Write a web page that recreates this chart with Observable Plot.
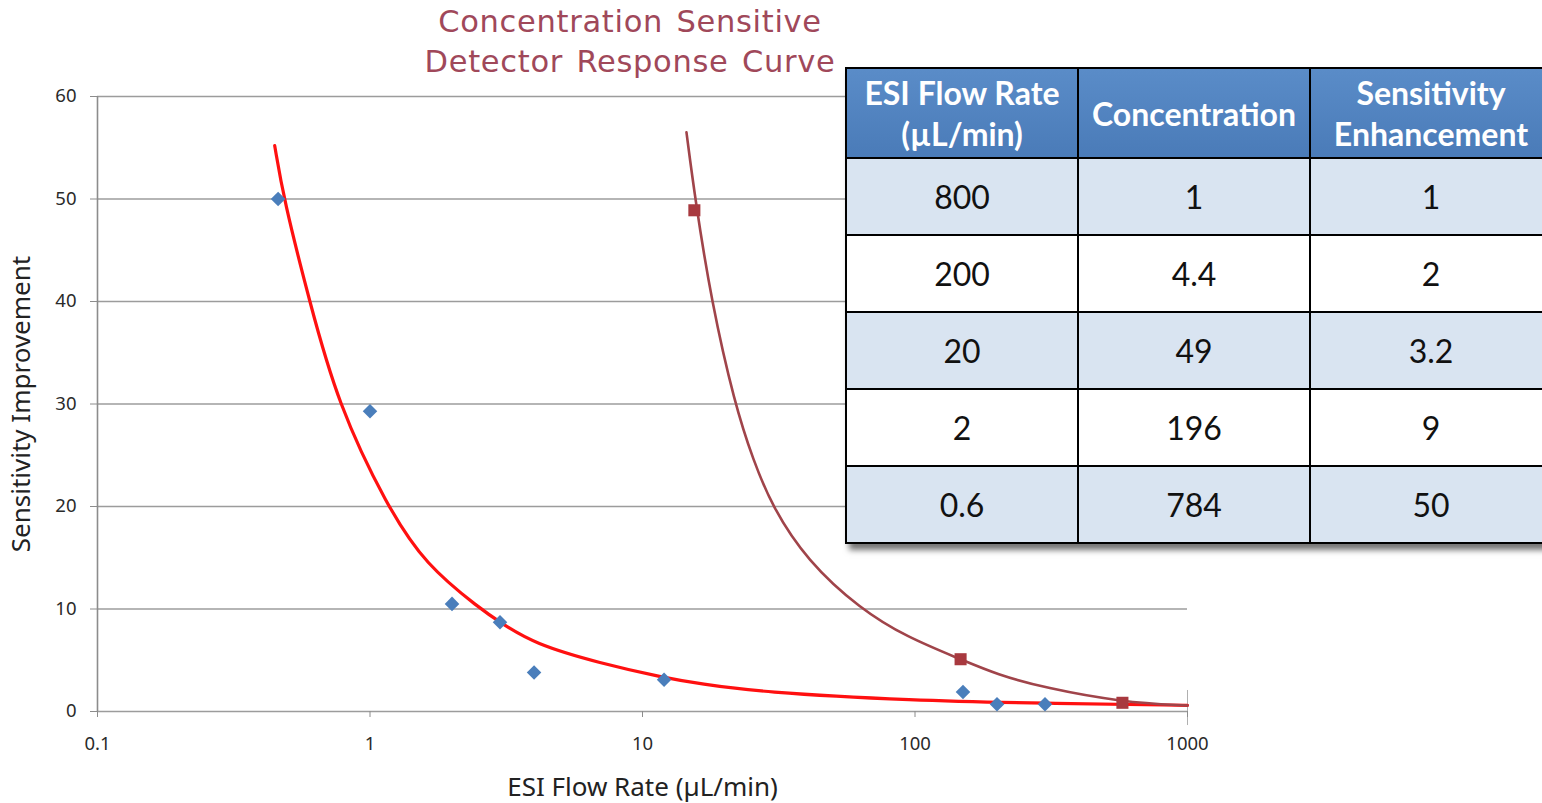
<!DOCTYPE html>
<html><head><meta charset="utf-8">
<script src="https://cdn.jsdelivr.net/npm/d3@7"></script>
<script src="https://cdn.jsdelivr.net/npm/@observablehq/plot@0.6"></script>
<style>
html,body{margin:0;padding:0;background:#fff;width:1542px;height:803px;overflow:hidden}
#wrap{position:relative;width:1542px;height:803px;overflow:hidden}
#chart{position:absolute;left:0;top:0}
#title{position:absolute;left:330px;width:600px;top:2px;text-align:center;font-family:"DejaVu Sans",sans-serif;font-size:30.5px;line-height:40px;color:#a0485a;word-spacing:3px;letter-spacing:0.7px}
#tbl{position:absolute;left:845px;top:67px;width:706px;table-layout:fixed;border-collapse:collapse;font-family:Lato,sans-serif;box-shadow:4px 6px 6px rgba(0,0,0,0.55)}
#tbl th,#tbl td{border:2px solid #000;text-align:center;padding:0;overflow:visible;white-space:nowrap}
#tbl th{background:linear-gradient(#5a8cc8,#4a7bb8);color:#fff;font-weight:bold;font-size:32px;line-height:41px;height:88px}
#tbl td{font-size:32px;color:#111;height:75px}
#tbl tr.alt td{background:#d9e4f1}
#tbl tr.plain td{background:#fff}
svg g[aria-label="y-axis label"] text, svg g[aria-label="x-axis label"] text{font-size:26px;fill:#222}
</style></head>
<body><div id="wrap">
<div id="chart"></div>
<div id="title">Concentration Sensitive<br>Detector Response Curve</div>
<table id="tbl"><colgroup id="cols"></colgroup><thead><tr id="hdr"></tr></thead><tbody id="tb"></tbody></table>
</div>
<script>
// ---- data ----
const xTicks = [0.1, 1, 10, 100, 1000];
const xTickLabels = ["0.1", "1", "10", "100", "1000"];
const yTicks = [0, 10, 20, 30, 40, 50, 60];

// measured points (blue diamonds)
const measuredFlow = [0.46, 1.0, 2.0, 3.0, 4.0, 12, 150, 200, 300];
const measuredGain = [50, 29.3, 10.5, 8.7, 3.8, 3.1, 1.9, 0.7, 0.7];

// concentration-sensitive points (brown squares)
const concFlow = [15.5, 147, 577];
const concGain = [48.9, 5.1, 0.85];

// red fitted curve
const redFlow = [0.447, 0.482, 0.60, 0.762, 1.156, 1.6, 2.545, 3.0, 4.0, 7.0, 12, 16.3, 26.7, 98, 300, 1000];
const redGain = [55.2, 50, 40, 30, 20, 14.3, 10, 8.7, 6.6, 4.7, 3.3, 2.7, 1.9, 1.07, 0.8, 0.6];

// brown curve
const brownFlow = [14.5, 15.6, 17.9, 21.8, 25.5, 29.9, 40.2, 63, 93.5, 147, 200, 300, 577, 1000];
const brownGain = [56.5, 50, 40, 30, 24.5, 20, 14.7, 10, 7.25, 5.1, 3.6, 2.3, 0.9, 0.58];

// table
const tableHeaders = ["ESI Flow Rate<br>(µL/min)", "Concentration", "Sensitivity<br>Enhancement"];
const tableFlow = ["800", "200", "20", "2", "0.6"];
const tableConc = ["1", "4.4", "49", "196", "784"];
const tableEnh = ["1", "2", "3.2", "9", "50"];

// ---- build ----
const zip = (xs, ys) => xs.map((x, i) => ({x, y: ys[i]}));
const measured = zip(measuredFlow, measuredGain);
const conc = zip(concFlow, concGain);
const red = zip(redFlow, redGain);
const brown = zip(brownFlow, brownGain);
const labelMap = new Map(xTicks.map((t, i) => [t, xTickLabels[i]]));

const chart = Plot.plot({
  width: 1542, height: 803,
  marginLeft: 97, marginRight: 355, marginTop: 96, marginBottom: 92,
  style: {fontFamily: "'Noto Sans', sans-serif", fontSize: "18.5px", color: "#2a2a2a", background: "transparent", overflow: "visible"},
  x: {type: "log", domain: [0.1, 1000]},
  y: {domain: [0, 60]},
  marks: [
    Plot.ruleY(yTicks, {stroke: "#9c9c9c", strokeWidth: 1.6}),
    Plot.ruleX([0.1], {y1: 0, y2: 60, stroke: "#8c8c8c", strokeWidth: 1.6}),
    Plot.ruleX([1000], {y1: 2.05, y2: -1.37, stroke: "#b0b0b0", strokeWidth: 1}),
    Plot.axisY({ticks: yTicks, tickSize: 7, tickPadding: 14, stroke: "#8c8c8c",
      label: "Sensitivity Improvement", labelAnchor: "center", labelOffset: 86, labelArrow: "none"}),
    Plot.axisX({ticks: xTicks, tickFormat: d => labelMap.get(d), tickSize: 6, tickPadding: 19, stroke: "#8c8c8c",
      label: "ESI Flow Rate (µL/min)", labelAnchor: "center", labelOffset: 84, labelArrow: "none"}),
    Plot.line(red, {x: "x", y: "y", stroke: "#ff1010", strokeWidth: 3.2, curve: "basis"}),
    Plot.line(brown, {x: "x", y: "y", stroke: "#a0444a", strokeWidth: 2.6, curve: "basis"}),
    Plot.dot(measured, {x: "x", y: "y", symbol: "square", rotate: 45, r: 5.8, fill: "#4a7ebb"}),
    Plot.dot(conc, {x: "x", y: "y", symbol: "square", r: 6.8, fill: "#a8393f"})
  ]
});
document.getElementById("chart").appendChild(chart);

document.getElementById("cols").innerHTML = [232, 232, 242].map(w => `<col style="width:${w}px">`).join("");
document.getElementById("hdr").innerHTML = tableHeaders.map(h => `<th>${h}</th>`).join("");
document.getElementById("tb").innerHTML = tableFlow.map((f, i) =>
  `<tr class="${i % 2 === 0 ? "alt" : "plain"}"><td>${f}</td><td>${tableConc[i]}</td><td>${tableEnh[i]}</td></tr>`).join("");
</script>
</body></html>
